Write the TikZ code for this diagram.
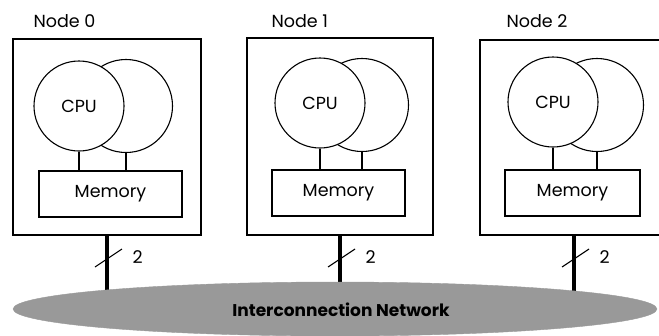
\documentclass[tikz,border=0pt]{standalone}
\usepackage{fontspec}
\setmainfont{Poppins}
\usetikzlibrary{shapes.geometric}
\begin{document}
\begin{tikzpicture}[x=1pt,y=-1pt,
  every node/.style={font=\fontsize{17.5}{20}\selectfont},
  nodebox/.style={draw, line width=1.1pt, inner sep=0, fill=white},
  cpu/.style={draw, circle, line width=1.1pt, inner sep=0, fill=white, minimum size=90pt},
  cpu2/.style={draw, circle, line width=1.1pt, inner sep=0, fill=white, minimum size=93pt},
  mem/.style={draw, line width=1.1pt, inner sep=0, fill=white, minimum height=46pt},
  link/.style={line width=1.1pt},
  bus/.style={line width=3.8pt},
  slash/.style={line width=1.1pt},
  lbl/.style={anchor=base west}
]
\useasboundingbox (0,0) rectangle (659,335);
\fill[white] (0,0) rectangle (659,335);

% ---------- node 0 ----------
\node[nodebox, minimum width=188pt, minimum height=196pt] (n0) at (107,137) {};
\node[lbl] (l0) at (30,27) {Node 0};
\node[cpu2] (d0) at (126,106) {};
\node[cpu] (c0) at (79,106) {CPU};
\node[mem, minimum width=143pt] (m0) at (110.5,194) {Memory};
\draw[link] (c0.south) -- (c0.south |- m0.north);
\draw[link] (d0.south) -- (d0.south |- m0.north);

% ---------- node 1 ----------
\node[nodebox, minimum width=186pt, minimum height=197pt] (n1) at (340,136.5) {};
\node[lbl] (l1) at (268,27) {Node 1};
\node[cpu2] (d1) at (362,105) {};
\node[cpu] (c1) at (320,103) {CPU};
\node[mem, minimum width=133pt] (m1) at (338.5,193) {Memory};
\draw[link] (c1.south) -- (c1.south |- m1.north);
\draw[link] (d1.south) -- (d1.south |- m1.north);

% ---------- node 2 ----------
\node[nodebox, minimum width=188pt, minimum height=195pt] (n2) at (574,137.5) {};
\node[lbl] (l2) at (503,27) {Node 2};
\node[cpu2] (d2) at (597,105) {};
\node[cpu] (c2) at (553,102) {CPU};
\node[mem, minimum width=135pt] (m2) at (572.5,193) {Memory};
\draw[link] (c2.south) -- (c2.south |- m2.north);
\draw[link] (d2.south) -- (d2.south |- m2.north);

% ---------- links to network ----------
\coordinate (e0) at (107,300);
\coordinate (e1) at (340,300);
\coordinate (e2) at (574,300);
\draw[bus] (n0.south) -- (e0);
\draw[bus] (n1.south) -- (e1);
\draw[bus] (n2.south) -- (e2);

\foreach \i/\x in {0/107,1/340,2/574}{
  \draw[slash] (\x-12,267) -- (\x+15,249);
  \node[anchor=base west] (w\i) at (\x+22,263) {2};
}

% ---------- network ----------
\node[ellipse, draw=black!40, fill=black!40, minimum width=644pt, minimum height=54pt, inner sep=0] (net) at (335,309) {};
\node[font=\bfseries\fontsize{17}{20}\selectfont] (nt) at (341,310) {Interconnection Network};
\end{tikzpicture}
\end{document}
